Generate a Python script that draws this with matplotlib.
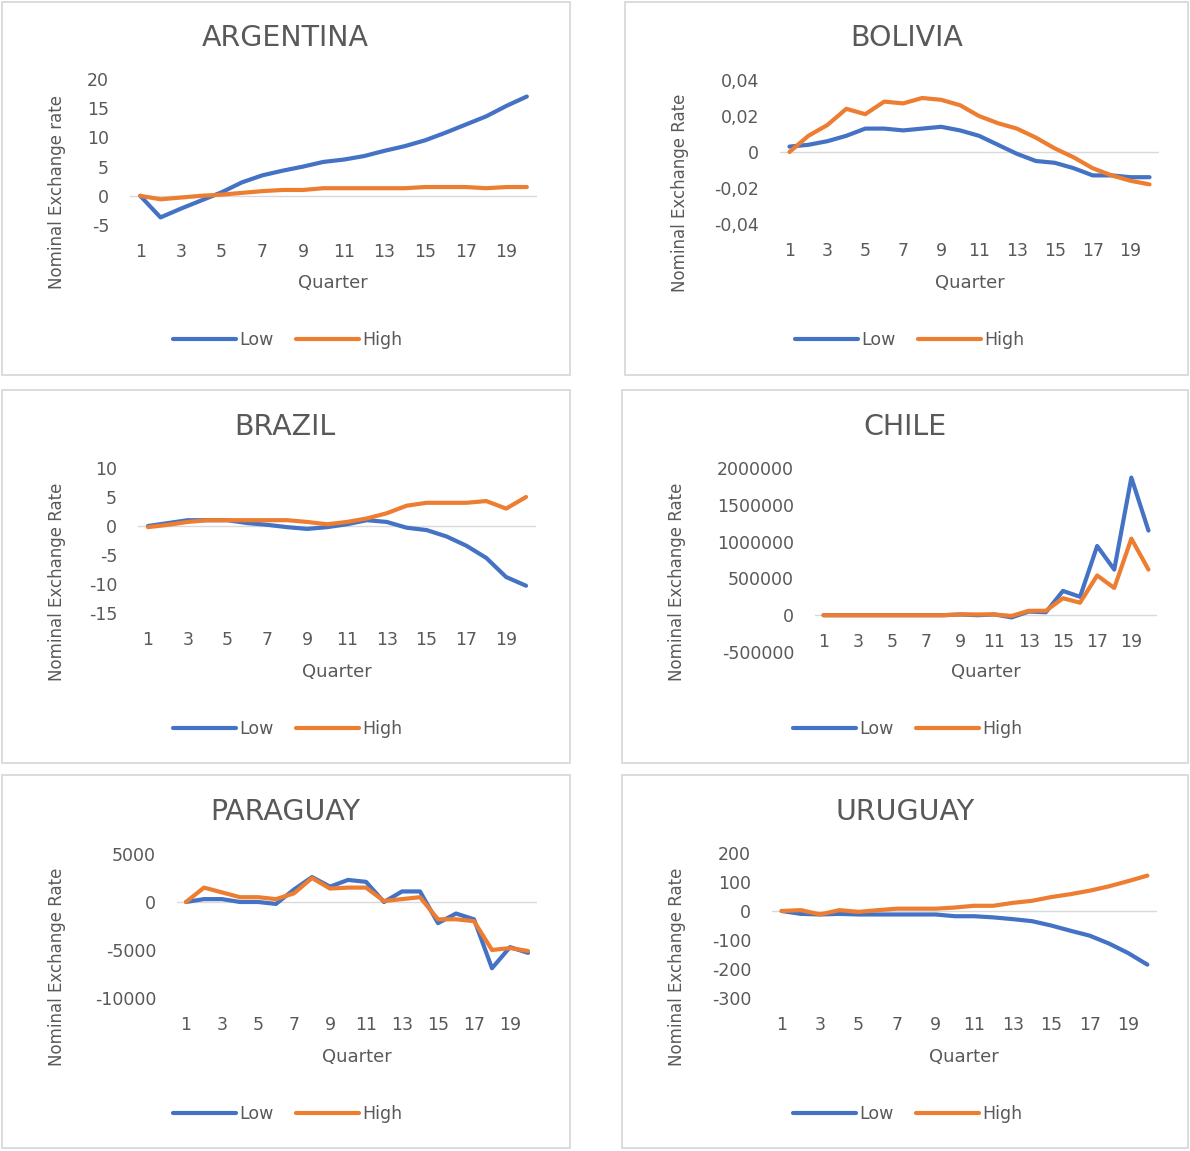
import matplotlib
matplotlib.use("Agg")
import matplotlib.pyplot as plt
from matplotlib.patches import Rectangle
from matplotlib.ticker import FuncFormatter

quarters = list(range(1, 21))
xtick_labels = [str(q) for q in range(1, 21, 2)]

argentina_low = [0, -3.7, -2.2, -0.8, 0.6, 2.3, 3.5, 4.3, 5.0, 5.8, 6.2, 6.8, 7.7, 8.5, 9.5, 10.8, 12.2, 13.6, 15.4, 17.0]
argentina_high = [0, -0.6, -0.3, 0.0, 0.2, 0.5, 0.8, 1.0, 1.0, 1.3, 1.3, 1.3, 1.3, 1.3, 1.5, 1.5, 1.5, 1.3, 1.5, 1.5]

bolivia_low = [0.003, 0.004, 0.006, 0.009, 0.013, 0.013, 0.012, 0.013, 0.014, 0.012, 0.009, 0.004, -0.001, -0.005, -0.006, -0.009, -0.013, -0.013, -0.014, -0.014]
bolivia_high = [0.0, 0.009, 0.015, 0.024, 0.021, 0.028, 0.027, 0.030, 0.029, 0.026, 0.020, 0.016, 0.013, 0.008, 0.002, -0.003, -0.009, -0.013, -0.016, -0.018]

brazil_low = [0, 0.5, 1.0, 1.0, 1.0, 0.5, 0.2, -0.2, -0.5, -0.2, 0.3, 1.0, 0.7, -0.3, -0.7, -1.8, -3.4, -5.5, -8.8, -10.3]
brazil_high = [-0.2, 0.2, 0.7, 1.0, 1.0, 1.0, 1.0, 1.0, 0.7, 0.3, 0.7, 1.3, 2.2, 3.5, 4.0, 4.0, 4.0, 4.3, 3.0, 5.0]

chile_low = [0, 0, 0, 0, 0, 0, 0, 0, 10000, 0, 10000, -30000, 50000, 40000, 330000, 250000, 940000, 620000, 1870000, 1150000]
chile_high = [0, 0, 0, 0, 0, 0, 0, 0, 10000, 10000, 10000, -10000, 60000, 60000, 230000, 170000, 540000, 370000, 1040000, 620000]

paraguay_low = [0, 300, 300, 0, 0, -200, 1300, 2600, 1600, 2300, 2100, 0, 1100, 1100, -2200, -1200, -1800, -6900, -4700, -5300]
paraguay_high = [0, 1500, 1000, 500, 500, 300, 900, 2500, 1400, 1500, 1500, 100, 300, 500, -1800, -1800, -2000, -5000, -4800, -5100]

uruguay_low = [0, -10, -12, -10, -12, -12, -12, -12, -12, -18, -18, -22, -28, -35, -50, -68, -85, -112, -145, -185]
uruguay_high = [0, 3, -12, 3, -3, 3, 8, 8, 8, 12, 18, 18, 28, 35, 48, 58, 70, 85, 103, 122]

W, H = 1190, 1151
BLUE = "#4472C4"
ORANGE = "#ED7D31"
TXT = "#595959"

fig = plt.figure(figsize=(W / 100, H / 100), dpi=100)
fig.patch.set_facecolor("white")

panels = [
    dict(title="ARGENTINA", low=argentina_low, high=argentina_high, ylabel="Nominal Exchange rate",
         box=(2, 2, 570, 375), plot=(130, 79, 537, 225), ylim=(-5, 20), yticks=[-5, 0, 5, 10, 15, 20],
         title_xy=(285, 38), ylab_xy=(57, 192), xlab_xy=(333, 283), leg_xy=(288, 340), fmt="int", axis0=False),
    dict(title="BOLIVIA", low=bolivia_low, high=bolivia_high, ylabel="Nominal Exchange Rate",
         box=(625, 2, 1188, 375), plot=(780, 80, 1159, 224), ylim=(-0.04, 0.04), yticks=[-0.04, -0.02, 0, 0.02, 0.04],
         title_xy=(907, 38), ylab_xy=(680, 193), xlab_xy=(970, 283), leg_xy=(910, 340), fmt="comma", axis0=False),
    dict(title="BRAZIL", low=brazil_low, high=brazil_high, ylabel="Nominal Exchange Rate",
         box=(2, 390, 570, 763), plot=(138, 468, 536, 613), ylim=(-15, 10), yticks=[-15, -10, -5, 0, 5, 10],
         title_xy=(285, 427), ylab_xy=(57, 582), xlab_xy=(337, 672), leg_xy=(288, 729), fmt="int", axis0=False),
    dict(title="CHILE", low=chile_low, high=chile_high, ylabel="Nominal Exchange Rate",
         box=(622, 390, 1188, 763), plot=(815, 468, 1157, 652), ylim=(-500000, 2000000),
         yticks=[-500000, 0, 500000, 1000000, 1500000, 2000000],
         title_xy=(905, 427), ylab_xy=(677, 582), xlab_xy=(986, 672), leg_xy=(908, 729), fmt="int", axis0=True),
    dict(title="PARAGUAY", low=paraguay_low, high=paraguay_high, ylabel="Nominal Exchange Rate",
         box=(2, 775, 570, 1148), plot=(177, 854, 537, 998), ylim=(-10000, 5000), yticks=[-10000, -5000, 0, 5000],
         title_xy=(285, 812), ylab_xy=(57, 967), xlab_xy=(357, 1057), leg_xy=(288, 1114), fmt="int", axis0=False),
    dict(title="URUGUAY", low=uruguay_low, high=uruguay_high, ylabel="Nominal Exchange Rate",
         box=(622, 775, 1188, 1148), plot=(772, 853, 1157, 998), ylim=(-300, 200),
         yticks=[-300, -200, -100, 0, 100, 200],
         title_xy=(905, 812), ylab_xy=(677, 967), xlab_xy=(964, 1057), leg_xy=(908, 1114), fmt="int", axis0=False),
]


def fx(x):
    return x / W


def fy(y):
    return 1 - y / H


for p in panels:
    bx0, by0, bx1, by1 = p["box"]
    fig.patches.append(Rectangle((fx(bx0), fy(by1)), (bx1 - bx0) / W, (by1 - by0) / H,
                                 transform=fig.transFigure, fill=False, edgecolor="#d9d9d9", lw=1.3))
    x0, y0, x1, y1 = p["plot"]
    ax = fig.add_axes([fx(x0), fy(y1), (x1 - x0) / W, (y1 - y0) / H])
    ax.set_facecolor("none")
    ax.axhline(0, color="#d9d9d9", lw=1.0, zorder=1)
    l1, = ax.plot(quarters, p["low"], color=BLUE, lw=3.0, label="Low", zorder=3, solid_capstyle="round")
    l2, = ax.plot(quarters, p["high"], color=ORANGE, lw=3.0, label="High", zorder=3, solid_capstyle="round")
    ax.set_xlim(0.5, 20.5)
    ax.set_ylim(*p["ylim"])
    ax.set_yticks(p["yticks"])
    if p["fmt"] == "comma":
        ax.yaxis.set_major_formatter(FuncFormatter(lambda v, pos: "0" if abs(v) < 1e-12 else f"{v:.2f}".replace(".", ",")))
    else:
        ax.yaxis.set_major_formatter(FuncFormatter(lambda v, pos: f"{int(round(v))}"))
    ax.set_xticks(list(range(1, 21, 2)))
    ax.set_xticklabels(xtick_labels)
    for s in ax.spines.values():
        s.set_visible(False)
    if p["axis0"]:
        ax.spines["bottom"].set_position(("data", 0))
    ax.tick_params(axis="both", length=0, labelsize=12.5, labelcolor=TXT)
    ax.tick_params(axis="y", pad=15)
    ax.tick_params(axis="x", pad=13)
    fig.text(fx(p["title_xy"][0]), fy(p["title_xy"][1]), p["title"], ha="center", va="center",
             fontsize=20.5, color=TXT)
    fig.text(fx(p["ylab_xy"][0]), fy(p["ylab_xy"][1]), p["ylabel"], ha="center", va="center",
             rotation=90, fontsize=12, color=TXT)
    fig.text(fx(p["xlab_xy"][0]), fy(p["xlab_xy"][1]), "Quarter", ha="center", va="center",
             fontsize=13, color=TXT)
    leg = fig.legend(handles=[l1, l2], loc="center", bbox_to_anchor=(fx(p["leg_xy"][0]), fy(p["leg_xy"][1])),
                     ncol=2, frameon=False, fontsize=12.5, handlelength=3.6, handletextpad=0.2,
                     columnspacing=1.3, labelcolor=TXT)

fig.savefig("out.png", dpi=100, facecolor="white")
